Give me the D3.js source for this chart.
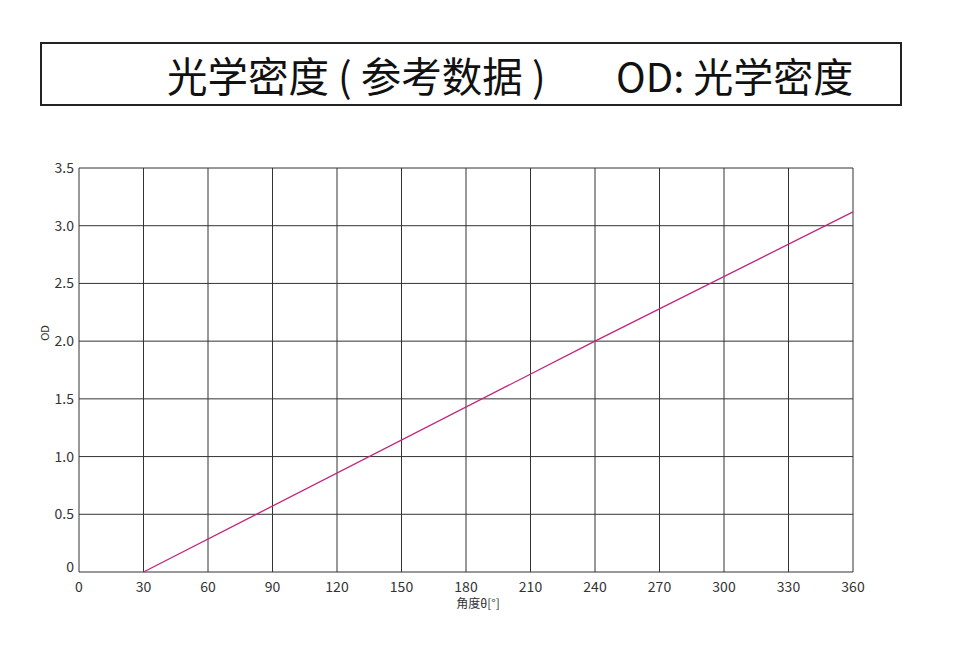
<!DOCTYPE html>
<html><head><meta charset="utf-8">
<script src="https://cdn.jsdelivr.net/npm/d3@7"></script>
<style>body{margin:0;background:#fff;} svg{display:block;}</style>
</head><body>
<svg id="c" width="956" height="660"></svg>
<script>
const titleLeft = "光学密度 ( 参考数据 )";
const titleRight = "OD: 光学密度";
const xTicks = [0,30,60,90,120,150,180,210,240,270,300,330,360];
const yTicks = [0,0.5,1.0,1.5,2.0,2.5,3.0,3.5];
const angle = [30, 240, 360];
const od = [0, 2.0, 3.12];
const xLabel = "角度θ[°]";
const yLabel = "OD";

const svg = d3.select("#c");
const font = "'Noto Sans CJK SC','Noto Sans',sans-serif";
svg.append("rect").attr("x",41).attr("y",43).attr("width",860).attr("height",62)
  .attr("fill","#fff").attr("stroke","#222").attr("stroke-width",2);
svg.append("text").attr("x",167).attr("y",92).attr("font-family",font).attr("font-size",40.5)
  .attr("fill","#111").text(titleLeft);
svg.append("text").attr("x",616).attr("y",92).attr("font-family",font).attr("font-size",40)
  .attr("fill","#111").text(titleRight);

const m = {l:79, r:853, t:168, b:572};
const x = d3.scaleLinear().domain([0,360]).range([m.l,m.r]);
const y = d3.scaleLinear().domain([0,3.5]).range([m.b,m.t]);
const g = svg.append("g");
g.selectAll(".vg").data(xTicks).join("line").attr("x1",d=>x(d)).attr("x2",d=>x(d))
  .attr("y1",m.t).attr("y2",m.b).attr("stroke","#333").attr("stroke-width",1);
g.selectAll(".hg").data(yTicks).join("line").attr("y1",d=>y(d)).attr("y2",d=>y(d))
  .attr("x1",m.l).attr("x2",m.r).attr("stroke","#333").attr("stroke-width",1);
g.selectAll(".xt").data(xTicks).join("text").attr("x",d=>x(d)).attr("y",592)
  .attr("text-anchor","middle").attr("font-family",font).attr("font-size",14).attr("fill","#333")
  .text(d=>d);
g.selectAll(".yt").data(yTicks).join("text").attr("x",74).attr("y",d=>d===0?y(d)-0:y(d)+5)
  .attr("text-anchor","end").attr("font-family",font).attr("font-size",14).attr("fill","#333")
  .text(d=>d===0?"0":d.toFixed(1));
svg.append("text").attr("x",478).attr("y",608).attr("text-anchor","middle").attr("font-family",font)
  .attr("font-size",12).attr("fill","#333").text(xLabel);
svg.append("text").attr("transform","translate(49,333) rotate(-90)").attr("text-anchor","middle")
  .attr("font-family",font).attr("font-size",11).attr("fill","#333").text(yLabel);
const line = d3.line().x((d,i)=>x(angle[i])).y(d=>y(d));
svg.append("path").attr("d",line(od)).attr("fill","none").attr("stroke","#c0257e").attr("stroke-width",1.3);
</script>
</body></html>
